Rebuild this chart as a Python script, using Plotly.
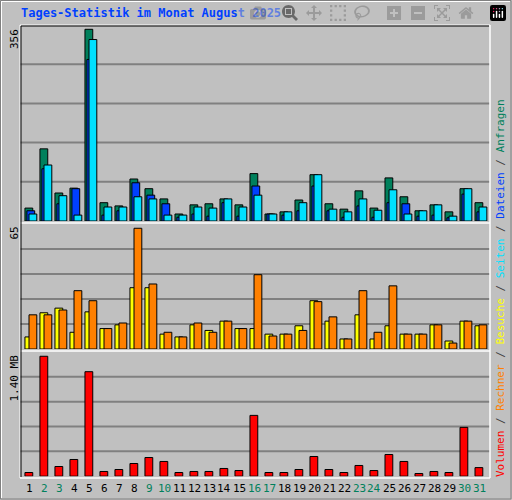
import plotly.graph_objects as go

days = list(range(1, 32))
weekend = [2, 3, 9, 10, 16, 17, 23, 24, 30, 31]

# Anfragen / Dateien / Seiten
hits = [24, 134, 52, 61, 356, 34, 28, 78, 60, 41, 13, 30, 32, 41, 30, 88,
        13, 17, 39, 86, 32, 22, 56, 24, 80, 45, 19, 30, 17, 60, 34]
files = [19, 97, 32, 60, 300, 11, 19, 71, 48, 32, 7, 13, 9, 34, 9, 65,
         13, 11, 19, 65, 19, 7, 28, 7, 34, 32, 9, 11, 6, 50, 17]
pages = [13, 104, 47, 11, 337, 26, 26, 45, 41, 11, 11, 26, 24, 41, 26, 48,
         13, 17, 34, 86, 22, 17, 41, 20, 58, 13, 19, 30, 9, 60, 26]
# Besuche / Rechner
visits = [6.5, 19.5, 22, 9, 20, 11, 13, 33, 33, 8, 6.5, 13, 10, 15, 11, 11,
          8, 8, 12.5, 26, 15, 5.4, 18.4, 5.4, 12.5, 8, 8, 13, 4.3, 15, 12.5]
sites = [18.4, 18.4, 21, 31.4, 26, 11, 14, 65, 35, 9, 6.5, 14, 9, 15, 11, 40,
         7, 8, 10, 25.5, 17.3, 5.4, 31.4, 9, 34, 8, 8, 13, 3.2, 15, 13]
# Volumen in MB
volume = [0.043, 1.40, 0.113, 0.195, 1.22, 0.055, 0.078, 0.148, 0.218, 0.172, 0.043,
          0.055, 0.055, 0.09, 0.066, 0.71, 0.043, 0.043, 0.078, 0.23, 0.078, 0.043,
          0.125, 0.066, 0.253, 0.172, 0.031, 0.055, 0.043, 0.57, 0.10]

GREEN, BLUE, CYAN = '#00805C', '#0040FF', '#00E0FF'
YELLOW, ORANGE, RED = '#FFFF00', '#FF8000', '#FF0000'
MONO = 'DejaVu Sans Mono'

# plot area in pixels: x 20..490, y 25..478
def px(x):
    return (x - 20) / 470

def py(y):
    return (478 - y) / 453

fig = go.Figure()

def bar(y, color, offset, xa, ya, width=0.52):
    fig.add_trace(go.Bar(x=days, y=y, offset=offset, width=width,
                         marker=dict(color=color, line=dict(color='black', width=1)),
                         xaxis=xa, yaxis=ya, showlegend=False))

bar(hits, GREEN, -0.5, 'x', 'y')
bar(files, BLUE, -0.37, 'x', 'y')
bar(pages, CYAN, -0.23, 'x', 'y')
bar(visits, YELLOW, -0.5, 'x2', 'y2')
bar(sites, ORANGE, -0.23, 'x2', 'y2')
bar(volume, RED, -0.5, 'x3', 'y3')

xax = dict(range=[0.17, 31.5], showticklabels=False, showgrid=False, zeroline=False)
yax = dict(showticklabels=False, showgrid=False, zeroline=False)

fig.update_layout(
    width=512, height=500,
    margin=dict(l=20, r=22, t=25, b=22),
    paper_bgcolor='#C0C0C0', plot_bgcolor='#C0C0C0',
    barmode='overlay',
    xaxis=dict(xax, anchor='y'),
    xaxis2=dict(xax, anchor='y2'),
    xaxis3=dict(xax, anchor='y3'),
    yaxis=dict(yax, domain=[py(221), 1], range=[0, 364], anchor='x'),
    yaxis2=dict(yax, domain=[py(349), py(224)], range=[0, 67.3], anchor='x2'),
    yaxis3=dict(yax, domain=[0.004, py(352)], range=[0, 1.45], anchor='x3'),
)

# grid lines and panel frames
for ya, (top, bottom) in zip(['y', 'y2', 'y3'], [(25, 221), (224, 349), (352, 476)]):
    for f in [0.2, 0.4, 0.6, 0.8]:
        fig.add_shape(type='line', xref='paper', yref=ya + ' domain', x0=0, x1=1, y0=f, y1=f,
                      line=dict(color='#808080', width=2), layer='below')
    fig.add_shape(type='line', xref='paper', yref='paper', x0=0, x1=1,
                  y0=py(bottom + 2), y1=py(bottom + 2), line=dict(color='white', width=1.5))

fig.add_shape(type='line', xref='paper', yref='paper', x0=0, x1=1, y0=1, y1=1,
              line=dict(color='white', width=1))
fig.add_shape(type='line', xref='paper', yref='paper', x0=0, x1=0, y0=py(478), y1=1,
              line=dict(color='white', width=1))
fig.add_shape(type='line', xref='paper', yref='paper', x0=1, x1=1, y0=py(478), y1=1,
              line=dict(color='white', width=1.5))
fig.add_shape(type='line', xref='paper', yref='paper', x0=px(21), x1=px(489), y0=py(26), y1=py(26),
              line=dict(color='black', width=1))
fig.add_shape(type='line', xref='paper', yref='paper', x0=px(21), x1=px(21), y0=py(477), y1=py(26),
              line=dict(color='black', width=1))

# outer bevel
fig.add_shape(type='rect', xref='paper', yref='paper', x0=px(0.5), x1=px(511), y0=py(499), y1=py(0.5),
              line=dict(color='#808080', width=1))
fig.add_shape(type='line', xref='paper', yref='paper', x0=px(1), x1=px(510), y0=py(1.5), y1=py(1.5),
              line=dict(color='white', width=1))
fig.add_shape(type='line', xref='paper', yref='paper', x0=px(1.5), x1=px(1.5), y0=py(498), y1=py(1),
              line=dict(color='white', width=1))

fig.add_annotation(text='<b>Tages-Statistik im Monat August 2025</b>', xref='paper', yref='paper',
                   x=px(19), y=py(13), xanchor='left', yanchor='middle', showarrow=False,
                   font=dict(family=MONO, size=12, color='#0040FF'))

for txt, ytop in [('356', 27), ('65', 225), ('1.40 MB', 353)]:
    fig.add_annotation(text=txt, xref='paper', yref='paper', x=px(14), y=py(ytop),
                       xanchor='center', yanchor='top', textangle=-90, showarrow=False,
                       font=dict(family=MONO, size=11, color='black'))

for d in days:
    fig.add_annotation(text=str(d), xref='x3', yref='paper', x=d - 0.22, y=py(489),
                       xanchor='center', yanchor='middle', showarrow=False,
                       font=dict(family=MONO, size=11, color=GREEN if d in weekend else 'black'))

sep = '<span style="color:#404040"> / </span>'
legend = sep.join([f'<span style="color:{c}">{t}</span>' for t, c in [
    ('Volumen', RED), ('Rechner', ORANGE), ('Besuche', YELLOW),
    ('Seiten', CYAN), ('Dateien', BLUE), ('Anfragen', GREEN)]])
fig.add_annotation(text=legend, xref='paper', yref='paper', x=px(500), y=py(479),
                   xanchor='center', yanchor='bottom', textangle=-90, showarrow=False,
                   font=dict(family=MONO, size=11))

fig.write_html('out.html', post_script="document.body.style.margin='0';")
